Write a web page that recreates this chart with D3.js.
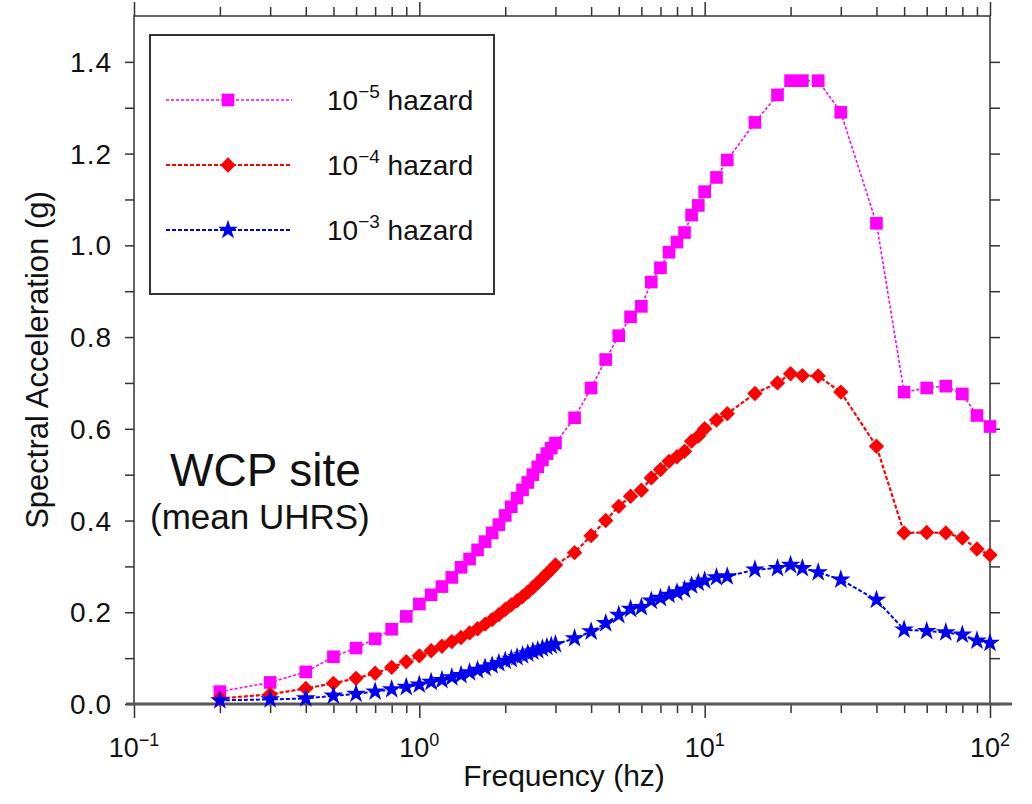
<!DOCTYPE html>
<html lang="en">
<head>
<meta charset="UTF-8">
<title>WCP site UHRS</title>
<script src="https://d3js.org/d3.v7.min.js"></script>
<style>
  body { margin: 0; background: #fff; }
  text { font-family: "Liberation Sans", Arial, Helvetica, sans-serif; fill: #111; }
</style>
</head>
<body>
<div id="chart"></div>
<script>
// frequencies (Hz)
const freq = [0.2,0.3,0.4,0.5,0.6,0.7,0.8,0.9,1.0,1.1,1.2,1.3,1.4,1.5,1.6,1.7,1.8,1.9,2.0,
  2.1,2.2,2.3,2.4,2.5,2.6,2.7,2.8,2.9,3.0,3.5,4.0,4.5,5.0,5.5,6.0,6.5,7.0,7.5,8.0,8.5,9.0,9.5,
  10,11,12,15,18,20,22,25,30,40,50,60,70,80,90,100];

// spectral acceleration (g) per hazard level
const haz5 = [0.027,0.047,0.070,0.103,0.122,0.142,0.163,0.191,0.218,0.238,0.256,0.276,0.298,0.316,
  0.336,0.354,0.373,0.391,0.411,0.430,0.449,0.467,0.483,0.500,0.517,0.532,0.546,0.558,0.569,
  0.624,0.689,0.751,0.803,0.844,0.867,0.920,0.951,0.985,1.007,1.028,1.066,1.087,
  1.117,1.148,1.186,1.268,1.328,1.359,1.359,1.359,1.290,1.048,0.680,0.689,0.693,0.676,0.629,0.605];
const haz4 = [0.012,0.021,0.034,0.045,0.056,0.067,0.080,0.092,0.105,0.116,0.126,0.136,0.145,0.155,
  0.164,0.174,0.184,0.195,0.206,0.216,0.225,0.234,0.244,0.254,0.264,0.274,0.284,0.293,0.303,
  0.330,0.367,0.400,0.431,0.453,0.466,0.493,0.511,0.529,0.539,0.551,0.573,0.584,
  0.600,0.619,0.633,0.677,0.700,0.720,0.716,0.715,0.680,0.562,0.373,0.374,0.373,0.362,0.338,0.325];
const haz3 = [0.008,0.010,0.012,0.018,0.022,0.027,0.032,0.037,0.042,0.048,0.052,0.058,0.063,0.069,
  0.074,0.079,0.084,0.089,0.094,0.098,0.102,0.106,0.110,0.114,0.117,0.121,0.124,0.127,0.130,
  0.143,0.158,0.176,0.194,0.207,0.211,0.225,0.231,0.238,0.243,0.249,0.258,0.264,
  0.269,0.276,0.278,0.293,0.296,0.303,0.296,0.287,0.271,0.227,0.162,0.159,0.156,0.151,0.138,0.133];

const yTicks = [0, 0.2, 0.4, 0.6, 0.8, 1.0, 1.2, 1.4];
const xDecades = [0.1, 1, 10, 100];
const xExponents = ["−1", "0", "1", "2"];

const series = [
  { exp: "−5", values: haz5, color: "#ff00ff", symbol: "square" },
  { exp: "−4", values: haz4, color: "#ff0000", symbol: "diamond" },
  { exp: "−3", values: haz3, color: "#0000ee", symbol: "star" }
];

const W = 1032, H = 804;
const pLeft = 134, pRight = 990, pTop = 16, pBottom = 704;

const svg = d3.select("#chart").append("svg")
  .attr("width", W).attr("height", H);

const x = d3.scaleLog().domain([0.1, 100]).range([pLeft, pRight]);
const y = d3.scaleLinear().domain([0, 1.5]).range([pBottom, pTop]);

const axisColor = "#333";
const minorX = x.ticks().filter(t => !xDecades.some(d => Math.abs(d - t) < 1e-9));
const minorY = d3.range(0.1, 1.5, 0.2);

function styleAxis(g) {
  g.select(".domain").remove();
  g.selectAll("line").attr("stroke", axisColor).attr("stroke-width", 1.5);
  g.selectAll("text").remove();
}

// bottom
svg.append("g").attr("transform", `translate(0,${pBottom})`)
  .call(d3.axisBottom(x).tickValues(xDecades).tickSize(14)).call(styleAxis);
svg.append("g").attr("transform", `translate(0,${pBottom})`)
  .call(d3.axisBottom(x).tickValues(minorX).tickSize(9)).call(styleAxis);
// top
svg.append("g").attr("transform", `translate(0,${pTop})`)
  .call(d3.axisTop(x).tickValues(xDecades).tickSize(14)).call(styleAxis);
svg.append("g").attr("transform", `translate(0,${pTop})`)
  .call(d3.axisTop(x).tickValues(minorX).tickSize(9)).call(styleAxis);
// left
svg.append("g").attr("transform", `translate(${pLeft},0)`)
  .call(d3.axisLeft(y).tickValues(yTicks).tickSize(9)).call(styleAxis);
svg.append("g").attr("transform", `translate(${pLeft},0)`)
  .call(d3.axisLeft(y).tickValues(minorY).tickSize(9)).call(styleAxis);
// right
svg.append("g").attr("transform", `translate(${pRight},0)`)
  .call(d3.axisRight(y).tickValues(yTicks).tickSize(10)).call(styleAxis);
svg.append("g").attr("transform", `translate(${pRight},0)`)
  .call(d3.axisRight(y).tickValues(minorY).tickSize(10)).call(styleAxis);

// frame
svg.append("rect")
  .attr("x", pLeft).attr("y", pTop)
  .attr("width", pRight - pLeft).attr("height", pBottom - pTop)
  .attr("fill", "none").attr("stroke", axisColor).attr("stroke-width", 1.5);
// heavy baseline
svg.append("line")
  .attr("x1", pLeft - 8).attr("x2", pRight + 22)
  .attr("y1", y(0)).attr("y2", y(0))
  .attr("stroke", "#555").attr("stroke-width", 3);

// y tick labels
svg.append("g").selectAll("text").data(yTicks).join("text")
  .attr("x", pLeft - 22).attr("y", d => y(d) + 10)
  .attr("text-anchor", "end").attr("font-size", 28).attr("letter-spacing", 1)
  .text(d => d3.format(".1f")(d));

// x tick labels with superscripts
const xl = svg.append("g").selectAll("text").data(xDecades).join("text")
  .attr("x", d => x(d)).attr("y", pBottom + 53)
  .attr("text-anchor", "middle").attr("font-size", 27);
xl.append("tspan").text("10");
xl.append("tspan").attr("dy", -11).attr("font-size", 18).text((d, i) => xExponents[i]);

// axis titles
svg.append("text")
  .attr("x", (pLeft + pRight) / 2 + 2).attr("y", 786)
  .attr("text-anchor", "middle").attr("font-size", 30)
  .text("Frequency (hz)");
svg.append("text")
  .attr("transform", `translate(48,${(pTop + pBottom) / 2}) rotate(-90)`)
  .attr("text-anchor", "middle").attr("font-size", 31)
  .text("Spectral Acceleration (g)");

// markers
function symbolPath(kind) {
  if (kind === "square") return d3.symbol(d3.symbolSquare, 160)();
  if (kind === "diamond") return d3.symbol(d3.symbolSquare, 118)();
  return d3.symbol(d3.symbolStar, 120)();
}
function symbolRotate(kind) { return kind === "diamond" ? " rotate(45)" : ""; }

const line = d3.line().x(d => x(d[0])).y(d => y(d[1]));
const dashes = { square: "3,2", diamond: "4,2", star: "4,2" };
const widths = { square: 1.6, diamond: 2.2, star: 2 };

series.forEach(s => {
  const pts = freq.map((f, i) => [f, s.values[i]]);
  const g = svg.append("g");
  g.append("path").datum(pts)
    .attr("d", line).attr("fill", "none")
    .attr("stroke", s.color).attr("stroke-width", widths[s.symbol])
    .attr("stroke-dasharray", dashes[s.symbol]);
  g.selectAll("path.m").data(pts).join("path").attr("class", "m")
    .attr("d", symbolPath(s.symbol))
    .attr("transform", d => `translate(${x(d[0])},${y(d[1])})` + symbolRotate(s.symbol))
    .attr("fill", s.color);
});

// legend
const lg = svg.append("g");
lg.append("rect").attr("x", 150).attr("y", 35).attr("width", 344).attr("height", 259)
  .attr("fill", "#fff").attr("stroke", axisColor).attr("stroke-width", 2);
series.forEach((s, i) => {
  const ly = 100 + i * 65;
  lg.append("line").attr("x1", 166).attr("x2", 292).attr("y1", ly).attr("y2", ly)
    .attr("stroke", s.color).attr("stroke-width", widths[s.symbol])
    .attr("stroke-dasharray", dashes[s.symbol]);
  lg.append("path").attr("d", symbolPath(s.symbol))
    .attr("transform", `translate(228,${ly})` + symbolRotate(s.symbol))
    .attr("fill", s.color);
  const t = lg.append("text").attr("x", 327).attr("y", ly + 10).attr("font-size", 28);
  t.append("tspan").text("10");
  t.append("tspan").attr("dy", -12).attr("font-size", 19).text(s.exp);
  t.append("tspan").attr("dy", 12).text(" hazard");
});

// site annotation
svg.append("text").attr("x", 170).attr("y", 486).attr("font-size", 46).text("WCP site");
svg.append("text").attr("x", 150).attr("y", 529).attr("font-size", 35).text("(mean UHRS)");
</script>
</body>
</html>
